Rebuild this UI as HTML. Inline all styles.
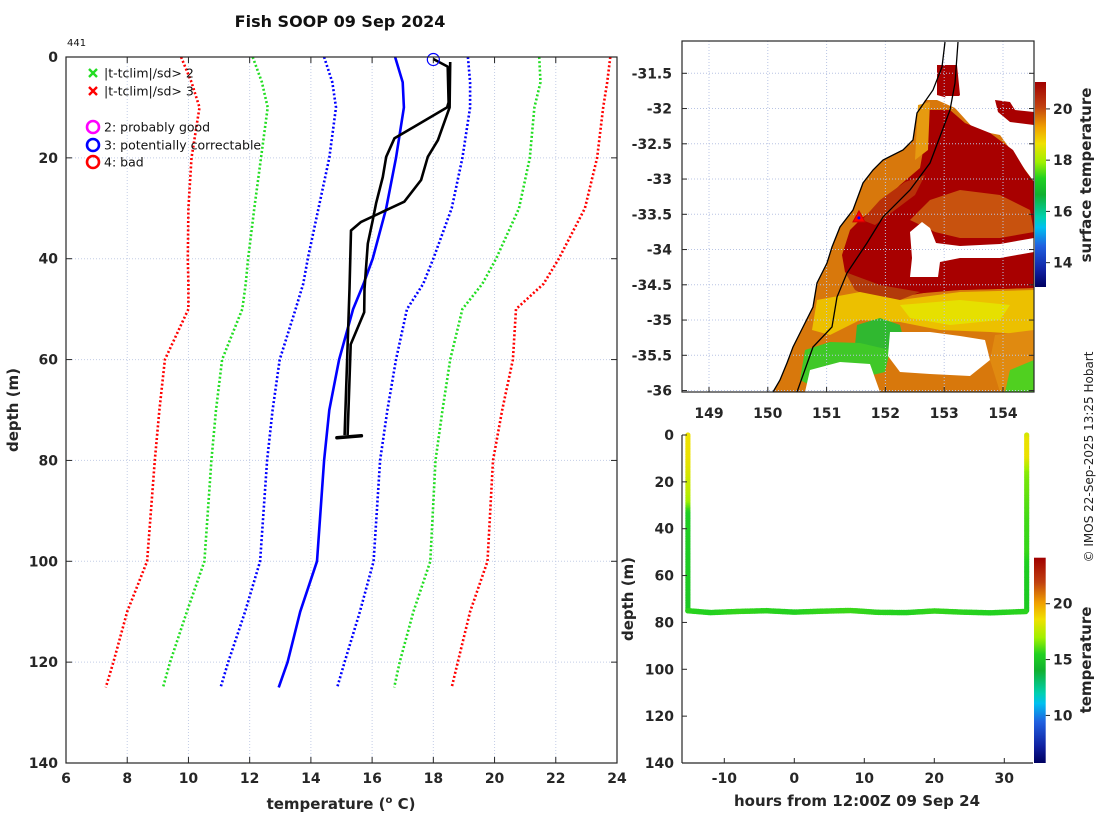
<!DOCTYPE html>
<html><head><meta charset="utf-8">
<style>
html,body{margin:0;padding:0;background:#fff;}
svg{display:block;font-family:"DejaVu Sans","Liberation Sans",sans-serif;}
.tk{font-weight:bold;font-size:14px;fill:#262626;}
.lab{font-weight:bold;font-size:15px;fill:#262626;}
</style></head>
<body>
<svg id="fig" width="1100" height="820" viewBox="0 0 1100 820" xmlns="http://www.w3.org/2000/svg">
<defs>
 <clipPath id="mapclip"><rect x="682" y="41" width="352" height="351"/></clipPath>
 <clipPath id="mainclip"><rect x="66" y="57" width="551" height="706"/></clipPath>
 <linearGradient id="jet" x1="0" y1="1" x2="0" y2="0">
  <stop offset="0" stop-color="#000060"/>
  <stop offset="0.08" stop-color="#1020a0"/>
  <stop offset="0.20" stop-color="#2060e0"/>
  <stop offset="0.29" stop-color="#00c0f0"/>
  <stop offset="0.34" stop-color="#00d0b0"/>
  <stop offset="0.45" stop-color="#10b030"/>
  <stop offset="0.53" stop-color="#20d020"/>
  <stop offset="0.61" stop-color="#a0f000"/>
  <stop offset="0.70" stop-color="#f0e000"/>
  <stop offset="0.78" stop-color="#f0a000"/>
  <stop offset="0.88" stop-color="#c04010"/>
  <stop offset="1" stop-color="#a00000"/>
 </linearGradient>
</defs>

<text x="340" y="27" text-anchor="middle" style="font-weight:bold;font-size:16px;fill:#111">Fish SOOP 09 Sep 2024</text>
<text x="67" y="46" style="font-size:10px;fill:#111">441</text>

<g id="main"></g>
<g id="map"></g>
<g id="bottom"></g>

<text transform="translate(1093,457) rotate(-90)" text-anchor="middle" style="font-size:12px;fill:#222">© IMOS 22-Sep-2025 13:25 Hobart</text>
</svg>

<script>
// ===== Main profile chart data =====
const climDepths = [0,5,10,20,30,40,45,50,60,70,80,100,110,120,125];
const meanTemps  = [16.75,17.0,17.04,16.78,16.46,16.02,15.72,15.38,14.92,14.6,14.43,14.2,13.65,13.24,12.95];
const sd1Lower   = [14.43,14.7,14.82,14.6,14.25,13.9,13.75,13.5,12.98,12.75,12.57,12.34,11.85,11.3,11.05];
const sd1Upper   = [19.13,19.2,19.2,18.95,18.6,18.0,17.67,17.14,16.78,16.5,16.26,16.05,15.6,15.1,14.86];
const sd2Lower   = [12.1,12.4,12.59,12.37,12.15,11.95,11.87,11.76,11.1,10.9,10.75,10.52,9.95,9.4,9.17];
const sd2Upper   = [21.46,21.5,21.3,21.15,20.8,20.05,19.6,18.95,18.55,18.3,18.07,17.9,17.35,16.9,16.72];
const sd3Lower   = [9.76,10.1,10.36,10.1,10.0,9.98,10.0,10.0,9.23,9.05,8.9,8.65,8.0,7.55,7.3];
const sd3Upper   = [23.78,23.68,23.55,23.35,22.95,22.1,21.6,20.7,20.6,20.25,19.95,19.77,19.2,18.8,18.6];
const obs1Depths = [0.4,1.9,9,10,13.8,16.1,19.8,23.8,29,32.4,37,46,50.6,57,75];
const obs1Temps  = [18.0,18.47,18.5,18.45,17.38,16.73,16.46,16.35,16.13,16.02,15.86,15.75,15.74,15.3,15.2];
const obs2Depths = [1,10,16.5,19.8,24.4,28.7,32.7,34.4,46,75];
const obs2Temps  = [18.55,18.53,18.15,17.82,17.6,17.05,15.64,15.31,15.26,15.1];
const xTicks = [6,8,10,12,14,16,18,20,22,24];
const yTicks = [0,20,40,60,80,100,120,140];
const flagMarker = [18.0, 0.3];
const bottomBlob = [14.85, 15.65, 75.5];

// ===== Map data =====
const lonTicks = [149,150,151,152,153,154];
const latTicks = [-31.5,-32,-32.5,-33,-33.5,-34,-34.5,-35,-35.5,-36];
const sstTicks = [14,16,18,20];
const shipPos = [151.55,-33.55];

// ===== Bottom chart data =====
const hourTicks = [-10,0,10,20,30];
const depthTicks2 = [0,20,40,60,80,100,120,140];
const tempTicks2 = [10,15,20];
const profileHours = [-15.2, 33.2];
const trackHours  = [-15.2,-12,-8,-4,0,4,8,12,16,20,24,28,33.2];
const trackDepths = [75,75.8,75.3,75,75.6,75.2,74.9,75.7,75.8,75.1,75.6,75.9,75.3];
const trackTemps  = [15.6,15.5,15.7,15.6,15.5,15.7,15.8,15.6,15.5,15.7,15.6,15.5,15.6];

const NS='http://www.w3.org/2000/svg';
function el(tag, attrs, parent){const e=document.createElementNS(NS,tag);for(const k in attrs)e.setAttribute(k,attrs[k]);parent.appendChild(e);return e;}
function interp(xs,ys,x){if(x<=xs[0])return ys[0];for(let i=1;i<xs.length;i++){if(x<=xs[i]){const f=(x-xs[i-1])/(xs[i]-xs[i-1]);return ys[i-1]+f*(ys[i]-ys[i-1]);}}return ys[ys.length-1];}

const cmStops=[[0,[0,0,96]],[0.08,[16,32,160]],[0.2,[32,96,224]],[0.29,[0,192,240]],[0.34,[0,208,176]],[0.45,[16,176,48]],[0.53,[32,208,32]],[0.61,[160,240,0]],[0.7,[240,224,0]],[0.78,[240,160,0]],[0.88,[192,64,16]],[1,[160,0,0]]];
function cmap(v){v=Math.max(0,Math.min(1,v));for(let i=1;i<cmStops.length;i++){if(v<=cmStops[i][0]){const a=cmStops[i-1],b=cmStops[i];const f=(v-a[0])/(b[0]-a[0]);const c=a[1].map((x,j)=>Math.round(x+f*(b[1][j]-x)));return `rgb(${c[0]},${c[1]},${c[2]})`;}}return 'rgb(160,0,0)';}

// ===== MAIN =====
(function(){
 const g=document.getElementById('main');
 const X0=66,X1=617,Y0=57,Y1=763;
 const xT=t=>X0+(t-6)/(24-6)*(X1-X0);
 const yD=d=>Y0+d/140*(Y1-Y0);
 xTicks.forEach(t=>{
  const l=el('line',{x1:xT(t),x2:xT(t),y1:Y0,y2:Y1,stroke:'#c3cde6','stroke-width':1,'stroke-dasharray':'1,2'},g);
  
  
 });
 yTicks.forEach(d=>{
  const l=el('line',{x1:X0,x2:X1,y1:yD(d),y2:yD(d),stroke:'#c3cde6','stroke-width':1,'stroke-dasharray':'1,2'},g);
  
  
 });
 const gc=el('g',{'clip-path':'url(#mainclip)'},g);
 function curve(ts,color,name,dotted,ds){
  ds=ds||climDepths;
  const pts=ts.map((t,i)=>xT(t).toFixed(1)+','+yD(ds[i]).toFixed(1)).join(' ');
  const p=el('polyline',{points:pts,fill:'none',stroke:color,'stroke-width':2.6,'stroke-linejoin':'round'},gc);
  if(dotted)p.setAttribute('stroke-dasharray','2,2.2');
  
  
 }
 curve(sd3Lower,'#ff0000','clim-minus-3sd',true);
 curve(sd3Upper,'#ff0000','clim-plus-3sd',true);
 curve(sd2Lower,'#22dd22','clim-minus-2sd',true);
 curve(sd2Upper,'#22dd22','clim-plus-2sd',true);
 curve(sd1Lower,'#0000ff','clim-minus-1sd',true);
 curve(sd1Upper,'#0000ff','clim-plus-1sd',true);
 curve(meanTemps,'#0000ff','clim-mean',false);
 curve(obs1Temps,'#000','observed-profile-1',false,obs1Depths);
 curve(obs2Temps,'#000','observed-profile-2',false,obs2Depths);
 const bl=el('line',{x1:xT(bottomBlob[0]),x2:xT(bottomBlob[1]),y1:yD(bottomBlob[2]),y2:yD(bottomBlob[2]-0.4),stroke:'#000','stroke-width':3.5,'stroke-linecap':'round'},gc);
 
 
 const fm=el('circle',{cx:xT(flagMarker[0]),cy:yD(flagMarker[1])+1,r:6,fill:'none',stroke:'#0000ff','stroke-width':1.2},g);
 
 
 // axes box
 const bx=el('rect',{x:X0,y:Y0,width:X1-X0,height:Y1-Y0,fill:'none',stroke:'#262626','stroke-width':1.2},g);
 
 
 xTicks.forEach(t=>{
  el('line',{x1:xT(t),x2:xT(t),y1:Y1,y2:Y1-6,stroke:'#262626'},g);
  el('line',{x1:xT(t),x2:xT(t),y1:Y0,y2:Y0+6,stroke:'#262626'},g);
  const tx=el('text',{x:xT(t),y:783,'text-anchor':'middle',class:'tk'},g);
  tx.textContent=t;
  
  
 });
 yTicks.forEach(d=>{
  el('line',{x1:X0,x2:X0+6,y1:yD(d),y2:yD(d),stroke:'#262626'},g);
  el('line',{x1:X1,x2:X1-6,y1:yD(d),y2:yD(d),stroke:'#262626'},g);
  const tx=el('text',{x:58,y:yD(d)+5,'text-anchor':'end',class:'tk'},g);
  tx.textContent=d;
  
  
 });
 const xl=el('text',{x:341,y:809,'text-anchor':'middle',class:'lab'},g);
 xl.innerHTML='temperature (<tspan dy="-6" font-size="10">o</tspan><tspan dy="6"> C)</tspan>';
 
 
 const yl=el('text',{transform:'translate(18,410) rotate(-90)','text-anchor':'middle',class:'lab'},g);
 yl.textContent='depth (m)';
 
 
 // legend
 const lg=el('g',{},g);
 
 
 const items=[['x','#22dd22',73,'|t-tclim|/sd> 2'],['x','#ff0000',91,'|t-tclim|/sd> 3'],['o','#ff00ff',127,'2: probably good'],['o','#0000ff',145,'3: potentially correctable'],['o','#ff0000',162,'4: bad']];
 items.forEach(it=>{
  const [k,c,y,txt]=it;
  if(k==='x'){el('path',{d:`M89 ${y-4} L97 ${y+4} M97 ${y-4} L89 ${y+4}`,stroke:c,'stroke-width':2.4},lg);}
  else{el('circle',{cx:93,cy:y,r:6,fill:'none',stroke:c,'stroke-width':2.6},lg);}
  const t=el('text',{x:104,y:y+4.5,style:'font-size:12.5px;fill:#111'},lg);
  t.textContent=txt;
  
  
 });
})();

// ===== MAP =====
(function(){
 const g=document.getElementById('map');
 const MX0=682,MX1=1034,MY0=41,MY1=392;
 const xL=lon=>709+(lon-149)*58.8;
 const yL=lat=>73.3+(-31.5-lat)*70.5;
 const gc=el('g',{'clip-path':'url(#mapclip)'},g);
 el('rect',{x:MX0,y:MY0,width:MX1-MX0,height:MY1-MY0,fill:'#fff'},gc);
 const polys=[
  ['sst-orange','#d8780c','913,140 917,113 925,100 937,100 955,108 975,130 1000,135 1034,182 1034,392 773,392 780,380 787,363 793,347 803,327 813,307 817,283 827,263 832,247 840,227 853,210 863,183 873,170 883,160 903,150'],
  ['sst-darkred-north','#a80000','937,65 957,65 960,95 955,100 937,95'],
  ['sst-darkred-main','#a80000','925,110 950,110 965,123 990,133 1013,150 1025,170 1034,182 1034,288 960,290 935,291 900,297 880,297 860,288 845,272 842,255 850,230 862,218 880,205 900,185 920,168 925,140'],
  ['sst-brown-mottle','#c8520e','930,200 960,190 1000,195 1030,210 1034,232 1000,238 960,238 935,232 910,220'],
  ['sst-brown-diagonal','#b83008','862,220 880,200 905,182 925,175 915,195 895,210 875,225'],
  ['sst-darkred-band','#a80000','880,255 910,250 960,255 1034,252 1034,288 960,290 900,295'],
  ['sst-coast-orange','#e69a10','918,105 930,102 928,150 915,160'],
  ['sst-brown-shade','#b23a0a','845,272 880,285 920,292 900,300 875,300 855,290'],
  ['sst-yellow','#ecc000','817,300 860,292 900,300 960,292 1034,290 1034,335 990,332 940,330 900,322 860,320 830,335 812,330'],
  ['sst-yellow-light','#e6e000','900,305 960,300 1010,305 1000,320 950,325 910,318'],
  ['sst-green-1','#30b830','857,325 880,318 900,325 905,345 890,357 870,352 855,345'],
  ['sst-green-2','#40c828','805,350 830,342 860,343 890,350 885,372 860,378 830,380 810,385 800,380'],
  ['sst-green-3','#6cd820','900,345 930,340 960,352 940,365 910,365'],
  ['sst-white-1','#ffffff','890,332 930,332 960,336 985,340 990,360 970,376 930,374 900,372 888,356'],
  ['sst-white-2','#ffffff','810,370 840,362 870,364 880,392 805,392'],
  ['sst-white-hole','#ffffff','910,232 922,222 930,228 936,243 960,246 1000,244 1034,238 1034,252 1000,258 960,258 940,262 938,277 910,277 912,258'],
  ['sst-right-orange','#e08a10','995,335 1034,330 1034,392 1000,392 990,360'],
  ['sst-green-4','#50d020','1010,370 1034,360 1034,392 1005,392'],
  ['sst-red-patch','#a80000','995,100 1010,102 1015,110 1034,112 1034,125 1010,122 998,112'],
  ['sst-white-top','#ffffff','945,96 975,96 975,105 950,106']
 ];
 polys.forEach(p=>{
  const e=el('polygon',{points:p[2],fill:p[1]},gc);
  
  
 });
 lonTicks.forEach(lo=>{
  el('line',{x1:xL(lo),x2:xL(lo),y1:MY0,y2:MY1,stroke:'#b8c4e4','stroke-width':1,'stroke-dasharray':'1,2'},gc);
 });
 latTicks.forEach(la=>{
  el('line',{x1:MX0,x2:MX1,y1:yL(la),y2:yL(la),stroke:'#b8c4e4','stroke-width':1,'stroke-dasharray':'1,2'},gc);
 });
 const coast=el('polyline',{points:'945,42 942,67 933,90 917,113 913,140 903,150 883,160 873,170 863,183 853,210 840,227 832,247 827,263 817,283 813,307 803,327 793,347 787,363 780,380 773,392',fill:'none',stroke:'#000','stroke-width':1.3},gc);
 
 
 const iso=el('polyline',{points:'958,42 955,83 950,110 930,163 910,190 883,217 867,243 847,273 837,297 832,327 813,347 797,392',fill:'none',stroke:'#000','stroke-width':1.3},gc);
 
 
 const sx=xL(shipPos[0]),sy=yL(shipPos[1]);
 const tri=el('polygon',{points:`${sx},${sy-7} ${sx-6},${sy+4} ${sx+6},${sy+4}`,fill:'#ff0000',stroke:'#cc0000','stroke-width':1},g);
 
 
 el('circle',{cx:sx,cy:sy,r:1.5,fill:'#0000ff'},g);
 const fr=el('rect',{x:MX0,y:MY0,width:MX1-MX0,height:MY1-MY0,fill:'none',stroke:'#262626','stroke-width':1.2},g);
 
 
 lonTicks.forEach(lo=>{
  el('line',{x1:xL(lo),x2:xL(lo),y1:MY1,y2:MY1-5,stroke:'#262626'},g);
  const t=el('text',{x:xL(lo),y:418,'text-anchor':'middle',class:'tk'},g);
  t.textContent=lo;
  
  
 });
 latTicks.forEach(la=>{
  el('line',{x1:MX0,x2:MX0+5,y1:yL(la),y2:yL(la),stroke:'#262626'},g);
  el('line',{x1:MX1,x2:MX1-5,y1:yL(la),y2:yL(la),stroke:'#262626'},g);
  const t=el('text',{x:672,y:yL(la)+5,'text-anchor':'end',class:'tk'},g);
  t.textContent=la;
  
  
 });
 // colorbar
 const CB0=82,CB1=287,vmin=13.05,vmax=21.05;
 const yC=v=>CB1-(v-vmin)/(vmax-vmin)*(CB1-CB0);
 const cb=el('rect',{x:1035,y:CB0,width:11,height:CB1-CB0,fill:'url(#jet)'},g);
 
 
 sstTicks.forEach(v=>{
  el('line',{x1:1046,x2:1050,y1:yC(v),y2:yC(v),stroke:'#262626'},g);
  const t=el('text',{x:1053,y:yC(v)+5,class:'tk'},g);
  t.textContent=v;
  
  
 });
 const cl=el('text',{transform:'translate(1091,175) rotate(-90)','text-anchor':'middle',class:'lab'},g);
 cl.textContent='surface temperature';
 
 
})();

// ===== BOTTOM =====
(function(){
 const g=document.getElementById('bottom');
 const BX0=682,BX1=1033,BY0=435,BY1=763;
 const xH=h=>794.3+h*7.0;
 const yD=d=>BY0+d/140*(BY1-BY0);
 const CB0=557.7,CB1=763,vmin=5.74,vmax=24.12;
 const col=t=>cmap((t-vmin)/(vmax-vmin));
 // profiles
 const profs=[[obs2Depths,obs2Temps],[obs1Depths,obs1Temps]];
 profileHours.forEach((h,i)=>{
  const [ds,ts]=profs[i];
  const pg=el('g',{},g);
  
  
  for(let d=0;d<=75;d+=0.7){
   el('circle',{cx:xH(h),cy:yD(d),r:2.6,fill:col(interp(ds,ts,d))},pg);
  }
 });
 const tg=el('g',{},g);
 
 
 for(let h=trackHours[0];h<=trackHours[trackHours.length-1];h+=0.25){
  el('circle',{cx:xH(h),cy:yD(interp(trackHours,trackDepths,h)),r:2.8,fill:col(interp(trackHours,trackTemps,h))},tg);
 }
 el('line',{x1:BX0,x2:BX0,y1:BY0,y2:BY1,stroke:'#262626','stroke-width':1.2},g);
 el('line',{x1:BX0,x2:BX1,y1:BY1,y2:BY1,stroke:'#262626','stroke-width':1.2},g);
 hourTicks.forEach(h=>{
  el('line',{x1:xH(h),x2:xH(h),y1:BY1,y2:BY1-5,stroke:'#262626'},g);
  const t=el('text',{x:xH(h),y:783,'text-anchor':'middle',class:'tk'},g);
  t.textContent=h;
  
  
 });
 depthTicks2.forEach(d=>{
  el('line',{x1:BX0,x2:BX0+5,y1:yD(d),y2:yD(d),stroke:'#262626'},g);
  const t=el('text',{x:674,y:yD(d)+5,'text-anchor':'end',class:'tk'},g);
  t.textContent=d;
  
  
 });
 const xl=el('text',{x:857,y:806,'text-anchor':'middle',class:'lab'},g);
 xl.textContent='hours from 12:00Z 09 Sep 24';
 
 
 const yl=el('text',{transform:'translate(633,599) rotate(-90)','text-anchor':'middle',class:'lab'},g);
 yl.textContent='depth (m)';
 
 
 const yC=v=>CB1-(v-vmin)/(vmax-vmin)*(CB1-CB0);
 const cb=el('rect',{x:1034,y:CB0,width:11.7,height:CB1-CB0,fill:'url(#jet)'},g);
 
 
 tempTicks2.forEach(v=>{
  el('line',{x1:1045.7,x2:1050,y1:yC(v),y2:yC(v),stroke:'#262626'},g);
  const t=el('text',{x:1053,y:yC(v)+5,class:'tk'},g);
  t.textContent=v;
  
  
 });
 const cl=el('text',{transform:'translate(1091,660) rotate(-90)','text-anchor':'middle',class:'lab'},g);
 cl.textContent='temperature';
 
 
})();
</script>
</body></html>
